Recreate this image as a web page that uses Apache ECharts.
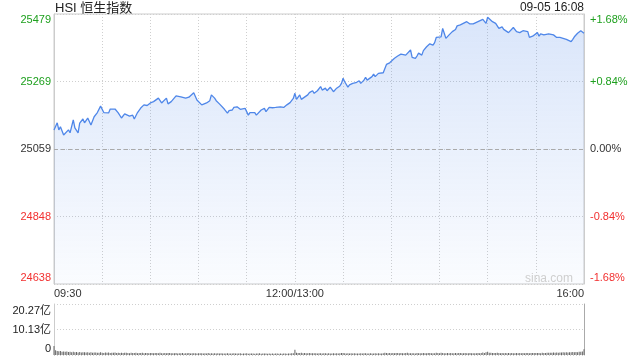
<!DOCTYPE html>
<html>
<head>
<meta charset="utf-8">
<style>html,body{margin:0;padding:0;background:#fff;}#chart{width:640px;height:360px;}</style>
<script src="https://cdn.jsdelivr.net/npm/echarts@6/dist/echarts.min.js"></script>
</head>
<body>
<div id="chart"></div>
<script>
// ---- data ----
const titleText = 'HSI 恒生指数';
const stampText = '09-05 16:08';
const watermark = 'sina.com';
const prevClose = 25058.5;
const priceMin = 24638;
const priceMax = 25479;
const priceTickLabels = ['24638', '24848', '25059', '25269', '25479'];
const pctTickLabels = ['-1.68%', '-0.84%', '0.00%', '+0.84%', '+1.68%'];
const xTickMinutes = [0, 150, 330];
const xTickLabels = ['09:30', '12:00/13:00', '16:00'];
const volMax = 20.27;
const volTickLabels = ['0', '10.13亿', '20.27亿'];

// trading minutes since 09:30 (lunch break removed)
const timeMinutes = [0,2,3,4,6,7,9,10,12,13,15,16,18,19,21,23,25,27,28,29,31,32,34,35,38,40,41,42,44,45,47,49,50,52,54,56,58,60,62,63,65,67,68,70,71,73,74,76,77,79,80,82,84,85,87,89,90,92,93,95,97,98,100,101,103,104,106,108,109,111,112,114,116,119,120,121,122,125,126,127,129,131,132,134,136,138,141,143,145,147,148,149,150,151,153,154,156,158,159,161,162,164,166,167,169,170,172,174,176,178,179,180,181,183,184,186,188,190,191,193,194,195,196,198,199,200,202,203,205,206,207,209,210,212,213,214,216,217,219,220,222,223,225,226,227,229,230,232,234,236,237,238,239,241,242,243,244,246,248,250,251,253,254,257,258,259,261,262,264,265,267,268,269,270,271,273,274,275,276,277,279,280,281,283,284,286,287,288,290,292,293,295,296,298,299,301,302,303,305,306,308,309,311,313,314,315,317,319,320,322,323,324,326,327,328,330];
const prices = [25118,25140,25118,25128,25102,25096,25118,25109,25149,25124,
25109,25139,25152,25140,25155,25133,25159,25172,25171,25192,
25172,25175,25171,25183,25183,25171,25172,25155,25168,25172,
25161,25164,25152,25172,25186,25196,25194,25202,25206,25211,
25217,25202,25206,25217,25199,25206,25203,25224,25227,25221,
25224,25217,25220,25214,25234,25211,25206,25196,25190,25202,
25209,25227,25217,25209,25199,25201,25183,25170,25178,25180,
25188,25190,25182,25185,25188,25164,25172,25172,25164,25170,
25180,25185,25175,25188,25187,25188,25190,25188,25196,25203,
25209,25216,25232,25213,25227,25213,25220,25227,25234,25240,
25232,25240,25253,25242,25248,25240,25251,25237,25248,25255,
25263,25279,25268,25251,25258,25263,25265,25271,25263,25273,
25282,25273,25279,25284,25292,25284,25294,25289,25296,25299,
25322,25327,25330,25341,25338,25348,25354,25348,25351,25354,
25367,25344,25341,25348,25357,25351,25365,25377,25386,25382,
25390,25406,25408,25408,25434,25419,25403,25414,25424,25431,
25442,25445,25442,25455,25450,25448,25448,25452,25455,25452,
25462,25458,25450,25469,25466,25455,25460,25450,25448,25434,
25439,25431,25427,25421,25424,25437,25431,25424,25421,25427,
25431,25424,25406,25410,25414,25421,25410,25417,25414,25419,
25417,25421,25414,25406,25410,25406,25403,25400,25396,25393,
25400,25408,25419,25424,25427,25419];

// per-minute volume (亿), minute 0..330
const volumes = [3.62,1.85,1.62,1.48,1.55,1.32,1.41,1.28,1.36,1.19,
1.25,1.12,1.30,1.08,1.15,1.02,1.21,0.98,1.10,1.05,
0.96,1.08,0.92,1.14,0.88,0.99,1.03,0.86,0.94,1.07,
0.91,0.84,0.97,0.88,1.02,0.82,0.90,0.86,0.95,0.79,
0.88,0.83,0.92,0.77,0.85,0.91,0.80,0.74,0.87,0.82,
0.78,0.86,0.72,0.81,0.76,0.89,0.73,0.79,0.84,0.71,
0.80,0.75,0.69,0.83,0.77,0.72,0.86,0.70,0.74,0.79,
0.68,0.76,0.81,0.66,0.73,0.70,0.78,0.64,0.72,0.69,
0.75,0.62,0.71,0.67,0.80,0.63,0.70,0.66,0.74,0.61,
0.69,0.65,0.72,0.60,0.68,0.64,0.77,0.59,0.66,0.63,
0.70,0.58,0.65,0.62,0.73,0.57,0.64,0.61,0.68,0.56,
0.63,0.60,0.67,0.55,0.62,0.59,0.71,0.54,0.61,0.58,
0.65,0.53,0.60,0.57,0.64,0.52,0.59,0.56,0.66,0.51,
0.58,0.55,0.62,0.50,0.57,0.54,0.61,0.49,0.56,0.60,
0.53,0.58,0.51,0.63,0.55,0.52,0.60,0.57,0.66,0.72,
2.05,0.94,0.81,0.76,0.85,0.70,0.79,0.73,0.68,0.77,
0.71,0.66,0.74,0.69,0.63,0.72,0.67,0.61,0.70,0.65,
0.60,0.68,0.64,0.59,0.73,0.62,0.66,0.58,0.69,0.75,
0.82,0.67,0.63,0.71,0.60,0.66,0.62,0.69,0.58,0.64,
0.61,0.68,0.57,0.65,0.70,0.59,0.63,0.67,0.56,0.62,
0.66,0.60,0.71,0.58,0.64,0.69,0.85,0.78,0.72,0.80,
0.74,0.79,0.68,0.76,0.83,0.70,0.75,0.67,0.72,0.78,
0.88,0.71,0.66,0.74,0.69,0.63,0.77,0.70,0.65,0.73,
0.79,0.68,0.72,0.75,0.81,0.70,0.66,0.74,0.86,0.76,
0.71,0.92,0.80,0.73,0.69,0.77,0.72,0.75,0.68,0.74,
0.79,0.70,0.76,0.82,0.71,0.67,0.78,0.73,0.69,0.75,
0.72,0.68,0.74,0.70,0.77,0.71,0.80,0.95,0.83,1.10,
1.28,0.92,0.85,0.78,0.81,0.76,0.89,0.82,0.74,0.79,
0.73,0.77,0.70,0.75,0.72,0.80,0.74,0.69,0.78,0.71,
0.76,0.73,0.79,0.70,0.84,0.77,0.72,0.81,0.75,0.78,
0.83,0.76,0.80,0.74,0.87,0.79,0.82,0.90,0.85,0.93,
0.88,0.96,0.91,0.99,0.94,1.02,0.97,1.05,1.00,1.08,
1.03,1.12,1.06,1.15,1.10,1.20,1.14,1.25,1.31,1.42,
2.24];

// ---- chart ----
const FONT = '"Liberation Sans", Arial, "Noto Sans CJK SC", sans-serif';
const GREEN = '#1ea01e';
const RED = '#f23030';
const DARK = '#333';

const lineData = timeMinutes.map((m, i) => [m, prices[i]]);
const volData = volumes.map((v, i) => [i, v]);

function sideRich(padTop, padBot) {
  const base = { fontSize: 11, fontFamily: FONT };
  return {
    g: Object.assign({ color: GREEN }, base),
    r: Object.assign({ color: RED }, base),
    n: Object.assign({ color: DARK }, base),
    gt: Object.assign({ color: GREEN, padding: [padTop, 0, 0, 0] }, base),
    rb: Object.assign({ color: RED, padding: [0, 0, padBot, 0] }, base)
  };
}
function sideFormatter(labels) {
  return function (value, index) {
    const s = labels[index];
    if (index === 0) return '{rb|' + s + '}';
    if (index === 1) return '{r|' + s + '}';
    if (index === labels.length - 1) return '{gt|' + s + '}';
    if (index === labels.length - 2) return '{g|' + s + '}';
    return '{n|' + s + '}';
  };
}

const chart = echarts.init(document.getElementById('chart'), null, { renderer: 'canvas' });
chart.setOption({
  animation: false,
  textStyle: { fontFamily: FONT },
  title: [
    { text: titleText, left: 50, top: -3, textStyle: { fontSize: 13, fontWeight: 'normal', color: '#222', fontFamily: FONT } },
    { text: stampText, right: 51, top: -3, textStyle: { fontSize: 12, fontWeight: 'normal', color: '#222', fontFamily: FONT } },
    { text: watermark, right: 62, top: 268, textStyle: { fontSize: 12, fontWeight: 'normal', color: '#cfcfcf', fontFamily: FONT } }
  ],
  grid: [
    { left: 54, right: 56, top: 14, height: 270, show: true, borderColor: '#ccc', borderWidth: 1, backgroundColor: 'transparent' },
    { left: 54, right: 56, top: 304, height: 51 }
  ],
  xAxis: [
    {
      gridIndex: 0, type: 'value', min: 0, max: 330, interval: 30,
      axisLine: { show: false }, axisTick: { show: false },
      splitLine: { show: true, lineStyle: { color: '#cfcfcf', type: [1, 2], width: 1 } },
      axisLabel: {
        show: true, margin: 4, fontSize: 11, color: DARK, fontFamily: FONT,
        alignMinLabel: 'left', alignMaxLabel: 'right',
        formatter: function (v) {
          const k = xTickMinutes.indexOf(v);
          return k >= 0 ? xTickLabels[k] : '';
        }
      }
    },
    {
      gridIndex: 1, type: 'value', min: 0, max: 330,
      axisLine: { show: false }, axisTick: { show: false },
      axisLabel: { show: false }, splitLine: { show: false }
    }
  ],
  yAxis: [
    { gridIndex: 0, type: 'value', min: priceMin, max: priceMax, show: false, splitLine: { show: false } },
    {
      gridIndex: 0, type: 'category', data: priceTickLabels, boundaryGap: false, position: 'left',
      axisLine: { show: true, lineStyle: { color: '#ccc' } }, axisTick: { show: false },
      splitLine: { show: true, lineStyle: { color: '#cfcfcf', type: [1, 2] } },
      axisLabel: { interval: 0, margin: 3, formatter: sideFormatter(priceTickLabels), rich: sideRich(12, 13) }
    },
    {
      gridIndex: 0, type: 'category', data: pctTickLabels, boundaryGap: false, position: 'right',
      axisLine: { show: true, lineStyle: { color: '#ccc' } }, axisTick: { show: false },
      splitLine: { show: false },
      axisLabel: { interval: 0, margin: 6, formatter: sideFormatter(pctTickLabels), rich: sideRich(12, 13) }
    },
    { gridIndex: 1, type: 'value', min: 0, max: volMax, show: false, splitLine: { show: false } },
    {
      gridIndex: 1, type: 'category', data: volTickLabels, boundaryGap: false, position: 'left',
      axisLine: { show: true, lineStyle: { color: '#ccc' } }, axisTick: { show: false },
      splitLine: { show: true, lineStyle: { color: '#cfcfcf', type: [1, 2] } },
      axisLabel: {
        interval: 0, margin: 3, fontSize: 11, color: '#222',
        formatter: function (v, i) {
          if (i === 0) return '{b|' + v + '}';
          if (i === volTickLabels.length - 1) return '{t|' + v + '}';
          return '{m|' + v + '}';
        },
        rich: {
          b: { fontSize: 11, color: '#222', fontFamily: FONT, padding: [0, 0, 13, 0] },
          t: { fontSize: 11, color: '#222', fontFamily: FONT, padding: [14, 0, 0, 0] },
          m: { fontSize: 11, color: '#222', fontFamily: FONT }
        }
      }
    },
    {
      gridIndex: 1, type: 'category', data: volTickLabels, boundaryGap: false, position: 'right',
      axisLine: { show: true, lineStyle: { color: '#aaa' } }, axisTick: { show: false },
      axisLabel: { show: false }, splitLine: { show: false }
    }
  ],
  series: [
    {
      type: 'line', xAxisIndex: 0, yAxisIndex: 0, data: lineData,
      showSymbol: false, symbol: 'none', smooth: false,
      lineStyle: { color: '#4f87e9', width: 1.3 },
      areaStyle: {
        origin: 'start',
        color: new echarts.graphic.LinearGradient(0, 0, 0, 1, [
          { offset: 0, color: 'rgba(79,135,233,0.30)' },
          { offset: 1, color: 'rgba(79,135,233,0.04)' }
        ])
      },
      markLine: {
        silent: true, symbol: 'none', label: { show: false },
        lineStyle: { color: '#aaa', type: [4, 3], width: 1 },
        data: [{ yAxis: prevClose }]
      },
      z: 3
    },
    {
      type: 'bar', xAxisIndex: 1, yAxisIndex: 3, data: volData,
      barWidth: 1, itemStyle: { color: '#666' }, z: 3
    }
  ]
});
</script>
</body>
</html>
